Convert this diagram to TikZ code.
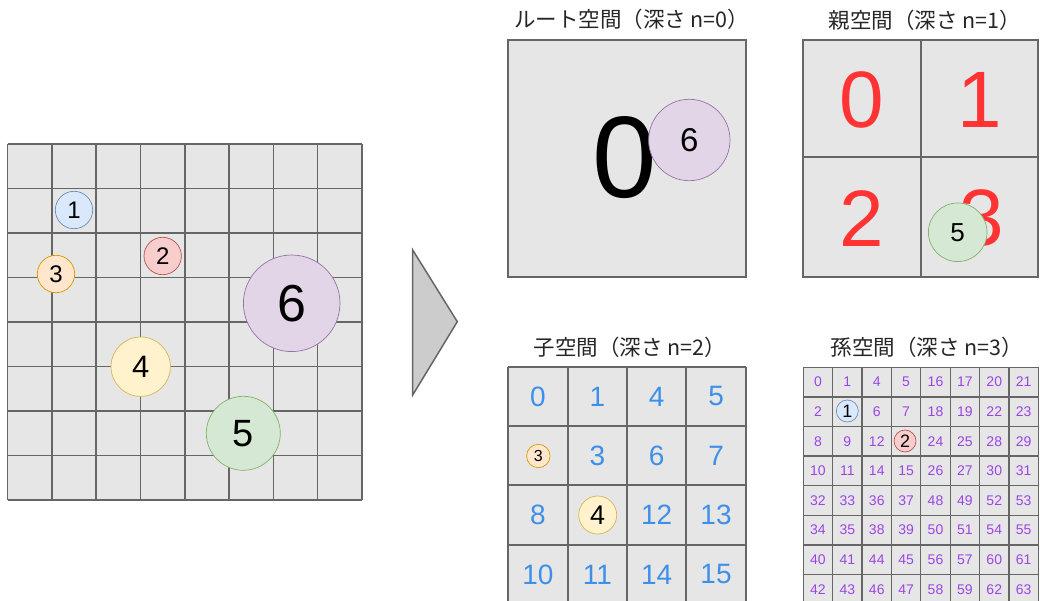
\documentclass[tikz,border=0pt]{standalone}
\usepackage{fontspec}
\setmainfont{Liberation Sans}
\newfontfamily\jp{Noto Sans CJK JP}
\definecolor{gridfill}{HTML}{E6E6E6}
\definecolor{gridline}{HTML}{666666}
\definecolor{redtxt}{HTML}{FF3333}
\definecolor{bluetxt}{HTML}{3D8FEA}
\definecolor{purptxt}{HTML}{9B45E4}
\definecolor{bF}{HTML}{DAE8FC}\definecolor{bS}{HTML}{6C8EBF}
\definecolor{rF}{HTML}{F8CECC}\definecolor{rS}{HTML}{B85450}
\definecolor{oF}{HTML}{FFE6CC}\definecolor{oS}{HTML}{D79B00}
\definecolor{yF}{HTML}{FFF2CC}\definecolor{yS}{HTML}{D6B656}
\definecolor{gF}{HTML}{D5E8D4}\definecolor{gS}{HTML}{82B366}
\definecolor{pF}{HTML}{E1D5E7}\definecolor{pS}{HTML}{9673A6}
\newcommand{\fs}[1]{\fontsize{#1}{#1}\selectfont}
\tikzset{
  gl/.style={draw=gridline, line width=1.5pt},
  ball/.style={circle, inner sep=0pt, line width=0.7pt, text=black},
  b1/.style={ball, fill=bF, draw=bS},
  b2/.style={ball, fill=rF, draw=rS},
  b3/.style={ball, fill=oF, draw=oS},
  b4/.style={ball, fill=yF, draw=yS},
  b5/.style={ball, fill=gF, draw=gS},
  b6/.style={ball, fill=pF, draw=pS},
  ttl/.style={font=\jp\fs{21.5}, text=black!85, inner sep=0pt},
  bigd/.style={inner sep=0pt},
}
\begin{document}
\begin{tikzpicture}[x=1pt,y=-1pt]
\useasboundingbox (0,0) rectangle (1040,601);
\clip (0,0) rectangle (1040,601);

% ---------- left 8x8 grid ----------
\fill[gridfill] (7.5,144) rectangle (362,500);
\foreach \i in {0,...,8}{
  \draw[gl] ({7.5+\i*44.3125},144) -- ({7.5+\i*44.3125},500);
  \draw[gl] (7.5,{144+\i*44.5}) -- (362,{144+\i*44.5});
}
\node[b1, minimum size=37.4pt, font=\fs{24}] (L1) at (74,210) {1};
\node[b2, minimum size=37.4pt, font=\fs{24}] (L2) at (162.7,256) {2};
\node[b3, minimum size=37.4pt, font=\fs{24}] (L3) at (56,274) {3};
\node[b4, minimum size=59.4pt, font=\fs{31}] (L4) at (140.7,366.7) {4};
\node[b5, minimum size=74pt, font=\fs{38}] (L5) at (243.3,433.3) {5};
\node[b6, minimum size=96.6pt, font=\fs{52}] (L6) at (291.7,303.3) {6};

% ---------- arrow triangle ----------
\draw[fill=black!20, draw=gridline, line width=1.5pt, line join=miter]
  (412.7,250) -- (457.3,321.7) -- (412.7,395) -- cycle;

% ---------- root space ----------
\node[ttl] (T0) at (631.7,19) {ルート空間（深さ n=0）};
\draw[gl, fill=gridfill, line width=2pt] (508.3,40) rectangle (746,277.3);
\node[bigd, font=\fs{116}] (R0) at (625,158) {0};
\node[b6, minimum size=81.4pt, font=\fs{33}] (R6) at (689.3,140) {6};

% ---------- parent space ----------
\node[ttl] (T1) at (925,20) {親空間（深さ n=1）};
\fill[gridfill] (802.7,40) rectangle (1038.3,277.3);
\draw[gl, line width=2pt] (802.7,40) rectangle (1038.3,277.3);
\draw[gl, line width=2pt] (920.7,40) -- (920.7,277.3);
\draw[gl, line width=2pt] (802.7,157.3) -- (1038.3,157.3);
\node[bigd, font=\fs{80}, text=redtxt] (P0) at (861.7,100) {0};
\node[bigd, font=\fs{80}, text=redtxt] (P1) at (980,100) {1};
\node[bigd, font=\fs{80}, text=redtxt] (P2) at (861.7,218.3) {2};
\node[bigd, font=\fs{80}, text=redtxt] (P3) at (981.7,218.3) {3};
\node[b5, minimum size=58.6pt, font=\fs{26}] (P5) at (957.7,232.3) {5};

% ---------- child space ----------
\node[ttl] (T2) at (630,347) {子空間（深さ n=2）};
\fill[gridfill] (508.3,366.7) rectangle (745.7,604.1);
\foreach \i in {0,...,4}{
  \draw[gl, line width=2pt] ({508.3+\i*59.35},366.7) -- ({508.3+\i*59.35},604.1);
  \draw[gl, line width=2pt] (508.3,{366.7+\i*59.35}) -- (745.7,{366.7+\i*59.35});
}
\foreach \r/\lst in {0/{0,1,4,5},1/{-1,3,6,7},2/{8,-1,12,13},3/{10,11,14,15}}{
  \foreach \v [count=\c from 0] in \lst {
    \ifnum\v>-1
      \node[bigd, font=\fs{28}, text=bluetxt] (C\r-\c) at ({508.3+(\c+0.5)*59.35},{366.7+(\r+0.5)*59.35}) {\v};
    \fi
  }
}
\node[b3, minimum size=23.4pt, font=\fs{16}] (C3) at (538.3,456) {3};
\node[b4, minimum size=38pt, font=\fs{27}] (C4) at (597.7,515) {4};

% ---------- grandchild space ----------
\node[ttl] (T3) at (927,347) {孫空間（深さ n=3）};
\fill[gridfill] (803.3,367.3) rectangle (1038.3,604.1);
\foreach \i in {0,...,8}{
  \draw[gl, line width=1.3pt] ({803.3+\i*29.375},367.3) -- ({803.3+\i*29.375},604.1);
  \draw[gl, line width=1.3pt] (803.3,{367.3+\i*29.6}) -- (1038.3,{367.3+\i*29.6});
}
\foreach \r/\lst in {0/{0,1,4,5,16,17,20,21},1/{2,-1,6,7,18,19,22,23},2/{8,9,12,-1,24,25,28,29},3/{10,11,14,15,26,27,30,31},4/{32,33,36,37,48,49,52,53},5/{34,35,38,39,50,51,54,55},6/{40,41,44,45,56,57,60,61},7/{42,43,46,47,58,59,62,63}}{
  \foreach \v [count=\c from 0] in \lst {
    \ifnum\v>-1
      \node[bigd, font=\fs{14}, text=purptxt] (G\r-\c) at ({803.3+(\c+0.5)*29.375},{367.3+(\r+0.5)*29.6}) {\v};
    \fi
  }
}
\node[b1, minimum size=22pt, font=\fs{18}] (G1) at (847.3,411) {1};
\node[b2, minimum size=22pt, font=\fs{18}] (G2) at (905,441) {2};
\end{tikzpicture}
\end{document}
